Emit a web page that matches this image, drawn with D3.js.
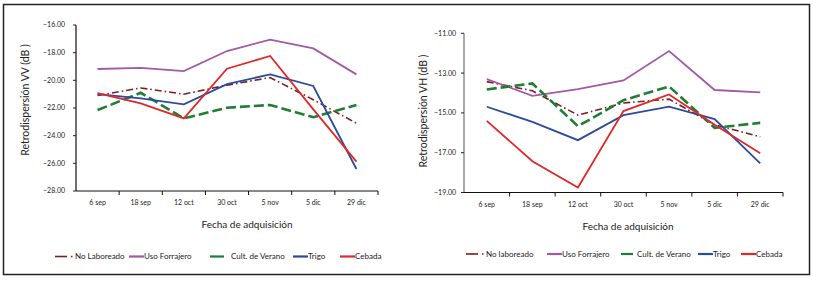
<!DOCTYPE html>
<html><head><meta charset="utf-8">
<script src="https://cdn.jsdelivr.net/npm/d3@7"></script>
<style>
body{margin:0;background:#fff;}
svg{display:block;font-family:Lato,"Open Sans",sans-serif;}
</style></head>
<body><svg id="c" width="813" height="281"></svg>
<script>
const dates = ["6 sep","18 sep","12 oct","30 oct","5 nov","5 dic","29 dic"];
const seriesNamesVV = ["No Laboreado","Uso Forrajero","Cult. de Verano","Trigo","Cebada"];
const seriesNamesVH = ["No laboreado","Uso Forrajero","Cult. de Verano","Trigo","Cebada"];
// VV backscatter (dB)
const vvNoLaboreado = [-21.1,-20.55,-21.0,-20.35,-19.8,-21.4,-23.1];
const vvUsoForrajero = [-19.18,-19.1,-19.33,-17.88,-17.06,-17.69,-19.57];
const vvCultVerano = [-22.15,-20.9,-22.75,-21.98,-21.78,-22.67,-21.78];
const vvTrigo = [-20.99,-21.3,-21.74,-20.27,-19.57,-20.41,-26.41];
const vvCebada = [-20.92,-21.66,-22.75,-19.16,-18.24,-22.1,-25.88];
// VH backscatter (dB)
const vhNoLaboreado = [-13.43,-13.89,-15.11,-14.5,-14.31,-15.6,-16.2];
const vhUsoForrajero = [-13.3,-14.14,-13.8,-13.37,-11.89,-13.85,-13.97];
const vhCultVerano = [-13.82,-13.52,-15.67,-14.36,-13.67,-15.75,-15.5];
const vhTrigo = [-14.69,-15.45,-16.37,-15.11,-14.69,-15.31,-17.54];
const vhCebada = [-15.4,-17.43,-18.75,-14.91,-14.07,-15.6,-17.03];
const vvTicks = [-16,-18,-20,-22,-24,-26,-28];
const vhTicks = [-11,-13,-15,-17,-19];

const colors = ["#7a1f1f","#a35aa6","#1f7d35","#2a4c9c","#e12828"];
const dashes = ["7,3,1.5,3","none","10,4","none","none"];
const widths = [1.6,1.8,2.6,1.8,1.8];

const svg = d3.select("#c");
svg.append("rect").attr("x",3.5).attr("y",4.5).attr("width",806).attr("height",270)
  .attr("fill","#fff").attr("stroke","#222").attr("stroke-width",1.5);

function panel(o){
  const g = svg.append("g");
  const x = d3.scaleBand().domain(dates).range([o.x0,o.x1]);
  const y = d3.scaleLinear().domain(o.domain).range([o.yb,o.yt]);
  // y axis
  g.append("line").attr("x1",o.x0).attr("x2",o.x0).attr("y1",y(o.domain[1])).attr("y2",y(o.domain[0]))
    .attr("stroke",o.yAxisColor).attr("stroke-width",o.yAxisW);
  o.ticks.forEach(t=>{
    g.append("line").attr("x1",o.x0-3).attr("x2",o.x0).attr("y1",y(t)).attr("y2",y(t)).attr("stroke","#222").attr("stroke-width",1);
    g.append("text").attr("x",o.x0-o.labGap).attr("y",y(t)).attr("dy","0.35em").attr("text-anchor","end")
      .attr("font-size",7).attr("fill","#222").text(d3.format(".2f")(t));
  });
  // x axis
  g.append("line").attr("x1",o.x0).attr("x2",o.x1).attr("y1",o.yb).attr("y2",o.yb).attr("stroke","#111").attr("stroke-width",1.2);
  dates.forEach(d=>{
    const xe = x(d)+x.bandwidth();
    g.append("line").attr("x1",xe).attr("x2",xe).attr("y1",o.yb).attr("y2",o.yb+4).attr("stroke","#111").attr("stroke-width",1);
    g.append("text").attr("x",x(d)+x.bandwidth()/2).attr("y",o.yb+14).attr("text-anchor","middle")
      .attr("font-size",7).attr("fill","#222").text(d);
  });
  g.append("text").attr("x",o.xtx).attr("y",o.yb+37).attr("text-anchor","middle")
    .attr("font-size",10).attr("fill","#222").text("Fecha de adquisición");
  g.append("text").attr("transform",`translate(${o.ytx},${o.yty}) rotate(-90)`).attr("text-anchor","middle")
    .attr("font-size",10.5).attr("fill","#222").text(o.ytitle);
  // lines
  const line = d3.line().x((d,i)=>x(dates[i])+x.bandwidth()/2).y(d=>y(d));
  o.series.forEach((s,k)=>{
    g.append("path").attr("d",line(s)).attr("fill","none").attr("stroke",colors[k])
      .attr("stroke-width",widths[k]).attr("stroke-dasharray",dashes[k]).attr("stroke-linejoin","miter");
  });
  // legend
  o.names.forEach((n,k)=>{
    const lx = o.leg[k], ly = o.legY;
    if(k===0){
      g.append("line").attr("x1",lx).attr("x2",lx+12).attr("y1",ly).attr("y2",ly).attr("stroke",colors[k]).attr("stroke-width",1.6);
      g.append("line").attr("x1",lx+16).attr("x2",lx+17.5).attr("y1",ly).attr("y2",ly).attr("stroke",colors[k]).attr("stroke-width",1.6);
      g.append("text").attr("x",lx+20).attr("y",ly).attr("dy","0.35em").attr("font-size",8).attr("fill","#222").text(n);
    } else {
      const sw = k===2 ? o.greenW : 15;
      g.append("line").attr("x1",lx).attr("x2",lx+sw).attr("y1",ly).attr("y2",ly).attr("stroke",colors[k]).attr("stroke-width",2.2);
      g.append("text").attr("x",lx+(k===2?o.greenOff:15)).attr("y",ly).attr("dy","0.35em").attr("font-size",8).attr("fill","#222").text(n);
    }
  });
}

panel({x0:76,x1:378,yb:191,yt:25,domain:[-28,-16],ticks:vvTicks,yAxisColor:"#111",yAxisW:1.2,labGap:11,
  ytitle:"Retrodispersión VV (dB )",ytx:29,yty:100,xtx:247,
  series:[vvNoLaboreado,vvUsoForrajero,vvCultVerano,vvTrigo,vvCebada],names:seriesNamesVV,
  leg:[55,129,210,293,340],legY:256.5,greenW:14,greenOff:21});
panel({x0:464,x1:783,yb:192.5,yt:33.3,domain:[-19,-11],ticks:vhTicks,yAxisColor:"#aaa",yAxisW:2,labGap:8,
  ytitle:"Retrodispersión VH (dB )",ytx:427,yty:111,xtx:628,
  series:[vhNoLaboreado,vhUsoForrajero,vhCultVerano,vhTrigo,vhCebada],names:seriesNamesVH,
  leg:[466,547,621,698,741],legY:254,greenW:12,greenOff:16});
</script></body></html>
